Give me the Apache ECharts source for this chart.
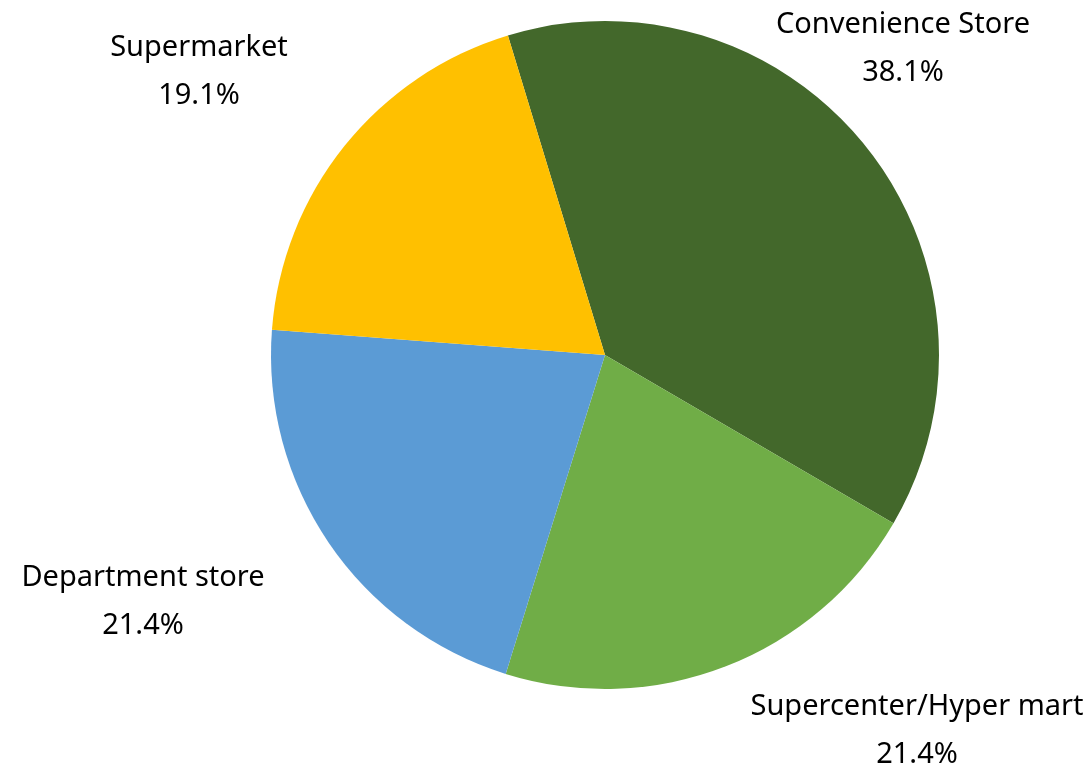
<!DOCTYPE html>
<html>
<head>
<meta charset="utf-8">
<script src="https://cdn.jsdelivr.net/npm/echarts@6/dist/echarts.min.js"></script>
<style>
html,body{margin:0;padding:0;background:#fff;}
#chart{width:1092px;height:769px;}
</style>
</head>
<body>
<div id="chart"></div>
<script>
const categories = ['Convenience Store', 'Supercenter/Hyper mart', 'Department store', 'Supermarket'];
const values = [38.1, 21.4, 21.4, 19.1];
const colors = ['#43682B', '#70AD47', '#5B9BD5', '#FFC000'];
const labelCenters = [[903, 49], [917, 731], [143, 602], [199, 72]];

const chart = echarts.init(document.getElementById('chart'));
chart.setOption({
  backgroundColor: '#fff',
  animation: false,
  series: [{
    type: 'pie',
    center: [605, 355],
    radius: 334,
    startAngle: 106.9,
    clockwise: true,
    data: categories.map((c, i) => ({ name: c, value: values[i], itemStyle: { color: colors[i] } })),
    itemStyle: { borderWidth: 0 },
    label: {
      show: true,
      position: 'outside',
      alignTo: 'none',
      overflow: 'none',
      formatter: p => p.name + '\n' + p.value.toFixed(1) + '%',
      fontFamily: 'Noto Sans',
      fontSize: 29,
      lineHeight: 48,
      color: '#000',
      align: 'center'
    },
    labelLine: { show: false },
    labelLayout: function (params) {
      const c = labelCenters[params.dataIndex];
      return { x: c[0], y: c[1], align: 'center', verticalAlign: 'middle' };
    }
  }]
});
</script>
</body>
</html>
